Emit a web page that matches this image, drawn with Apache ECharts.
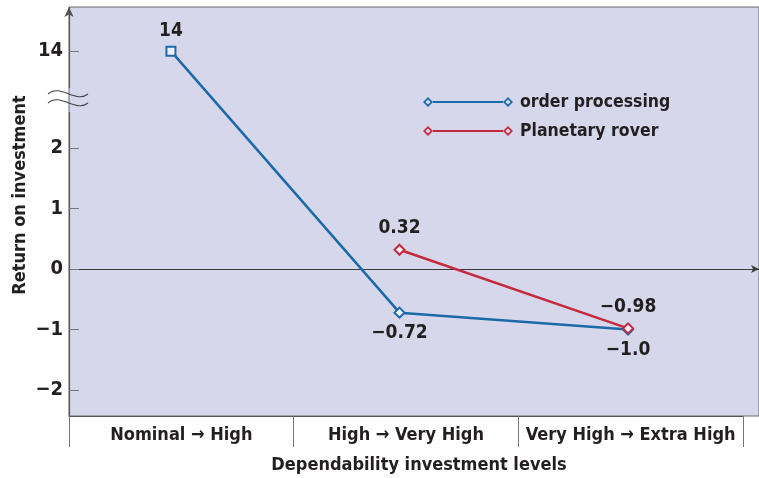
<!DOCTYPE html>
<html>
<head>
<meta charset="utf-8">
<script src="https://cdn.jsdelivr.net/npm/echarts@6/dist/echarts.min.js"></script>
<style>
  html, body { margin: 0; padding: 0; background: #ffffff; }
  #chart { width: 759px; height: 478px; }
</style>
</head>
<body>
<div id="chart"></div>
<script>
// Investment levels along the horizontal axis
const categories = ['Nominal \u2192 High', 'High \u2192 Very High', 'Very High \u2192 Extra High'];

// Return on investment per level, and how many decimals each label shows
const orderProcessing = [14, -0.72, -1.0];
const orderDecimals = [0, 2, 1];
const planetaryRover = [null, 0.32, -0.98];
const roverDecimals = [null, 2, 2];

// Tick values shown on the (broken) vertical axis
const yTicks = [-2, -1, 0, 1, 2, 14];

const seriesNames = ['order processing', 'Planetary rover'];

const FONT = "'Liberation Sans Narrow', 'DejaVu Sans Condensed', 'Liberation Sans', sans-serif";
const INK = '#231f20';
const BLUE = '#1b69a8';
const RED = '#c42a3d';
const PANEL = '#d7d7eb';

const fmt = (v, d) => Number(v).toFixed(d).replace('-', '\u2212');

const textBase = { fontFamily: FONT, fontWeight: 'bold', color: INK };

// Legend icon: line with hollow diamonds at both ends
const legendIcon = 'path://' +
  'M0 5 L5 0 L10 5 L5 10 Z M2.4 5 L5 7.6 L7.6 5 L5 2.4 Z ' +
  'M10 4.1 L80 4.1 L80 5.9 L10 5.9 Z ' +
  'M80 5 L85 0 L90 5 L85 10 Z M82.4 5 L85 7.6 L87.6 5 L85 2.4 Z';

function toPoints(values) {
  const out = [];
  values.forEach((v, i) => { if (v !== null) out.push([i, v]); });
  return out;
}

const chart = echarts.init(document.getElementById('chart'));

chart.setOption({
  animation: false,
  backgroundColor: '#ffffff',
  grid: [
    { left: 69, right: 0, top: 7, bottom: 62, show: true, backgroundColor: PANEL,
      borderColor: '#6a6a6a', borderWidth: 1 },
    { left: 69, width: 674, top: 415, height: 1 }
  ],
  xAxis: [
    {
      gridIndex: 0, type: 'value', min: -0.446, max: 2.573,
      axisLine: { show: true, onZero: true, symbol: ['none', 'arrow'], symbolSize: [6, 8],
        lineStyle: { color: '#3a3a3a', width: 1 } },
      axisTick: { show: false }, axisLabel: { show: false }, splitLine: { show: false }
    },
    {
      gridIndex: 1, type: 'category', data: categories, position: 'bottom',
      axisLine: { show: true, lineStyle: { color: '#555555', width: 1 } },
      axisTick: { show: true, interval: 0, length: 31, lineStyle: { color: '#777777', width: 1 } },
      axisLabel: Object.assign({ interval: 0, margin: 10, fontSize: 18 }, textBase),
      splitLine: { show: false }
    }
  ],
  yAxis: [
    {
      gridIndex: 0, type: 'value', min: -2.43, max: 14.73,
      breaks: [{ start: 2.6, end: 13.4, gap: '6%' }],
      breakArea: { show: false },
      axisLine: { show: true, onZero: false, symbol: ['none', 'arrow'], symbolSize: [7, 10],
        lineStyle: { color: '#555555', width: 1.2 } },
      axisTick: { show: true, inside: true, length: 10, customValues: yTicks,
        lineStyle: { color: '#777777', width: 1 } },
      axisLabel: Object.assign({ customValues: yTicks, margin: 6, fontSize: 20,
        formatter: v => fmt(v, 0) }, textBase),
      splitLine: { show: false }
    },
    { gridIndex: 1, type: 'value', show: false }
  ],
  legend: {
    orient: 'vertical', left: 418, top: 88,
    itemWidth: 90, itemHeight: 10, itemGap: 11,
    icon: legendIcon,
    textStyle: Object.assign({ fontSize: 17.5, padding: [0, 0, 0, 2] }, textBase),
    data: [
      { name: seriesNames[0], itemStyle: { color: BLUE, borderWidth: 0 } },
      { name: seriesNames[1], itemStyle: { color: RED, borderWidth: 0 } }
    ]
  },
  series: [
    {
      name: seriesNames[0], type: 'line', xAxisIndex: 0, yAxisIndex: 0,
      data: toPoints(orderProcessing).map(p => ({
        value: p,
        symbol: p[0] === 0 ? 'rect' : 'diamond',
        symbolSize: p[0] === 0 ? 9 : 10,
        label: { position: p[1] > 0 ? 'top' : 'bottom' }
      })),
      lineStyle: { color: BLUE, width: 2.5 },
      itemStyle: { color: '#eef0f8', borderColor: BLUE, borderWidth: 2 },
      label: Object.assign({ show: true, fontSize: 19, distance: 5,
        formatter: p => fmt(p.value[1], orderDecimals[p.value[0]]) }, textBase),
      z: 3
    },
    {
      name: seriesNames[1], type: 'line', xAxisIndex: 0, yAxisIndex: 0,
      data: toPoints(planetaryRover).map(p => ({ value: p, label: { position: 'top' } })),
      symbol: 'diamond', symbolSize: 10,
      lineStyle: { color: RED, width: 2.5 },
      itemStyle: { color: '#f4eef2', borderColor: RED, borderWidth: 2 },
      label: Object.assign({ show: true, fontSize: 19, distance: 6,
        formatter: p => fmt(p.value[1], roverDecimals[p.value[0]]) }, textBase),
      z: 4
    }
  ],
  graphic: [
    {
      type: 'text', x: 20, y: 195, rotation: Math.PI / 2,
      style: { text: 'Return on investment', font: "bold 18px " + FONT,
        fill: INK, align: 'center', verticalAlign: 'middle' }
    },
    {
      type: 'text', x: 419, y: 465,
      style: { text: 'Dependability investment levels', font: "bold 18px " + FONT,
        fill: INK, align: 'center', verticalAlign: 'middle' }
    },
    // break marks on the vertical axis
    {
      type: 'bezierCurve',
      shape: { x1: 48, y1: 94, cpx1: 60, cpy1: 83, cpx2: 76, cpy2: 104, x2: 88, y2: 94 },
      style: { stroke: '#444444', lineWidth: 1.1, fill: null }, z: 10
    },
    {
      type: 'bezierCurve',
      shape: { x1: 48, y1: 103, cpx1: 60, cpy1: 92, cpx2: 76, cpy2: 113, x2: 88, y2: 103 },
      style: { stroke: '#444444', lineWidth: 1.1, fill: null }, z: 10
    }
  ]
});
</script>
</body>
</html>
